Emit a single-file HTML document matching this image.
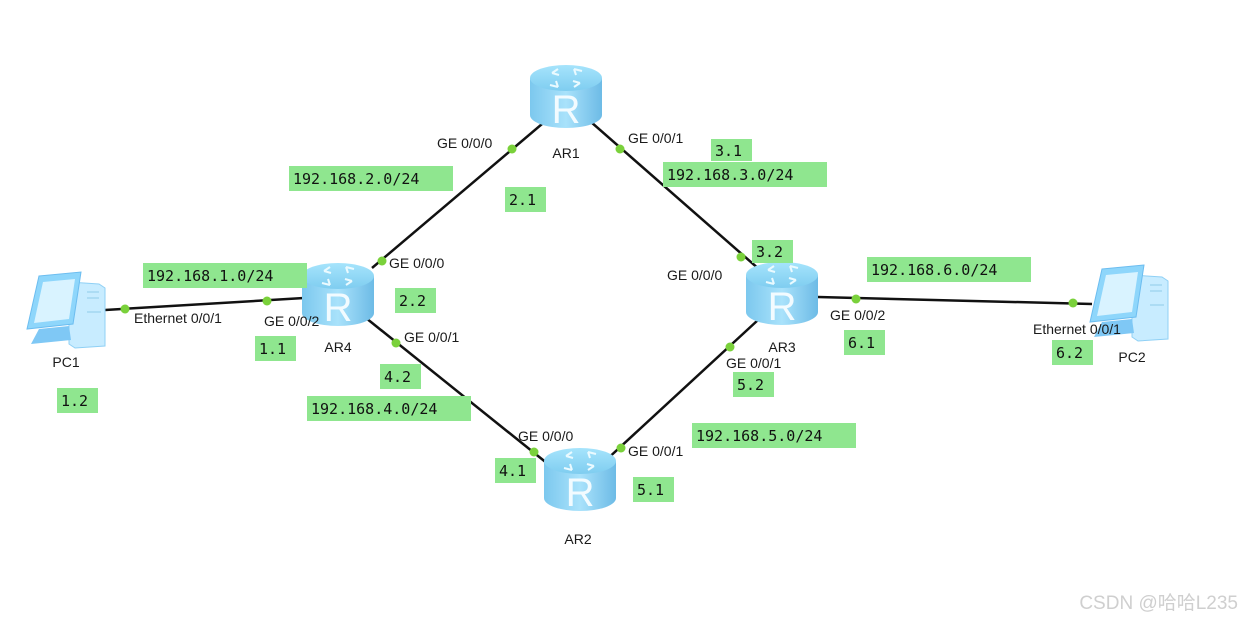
<!DOCTYPE html>
<html><head><meta charset="utf-8"><style>
html,body{margin:0;padding:0;background:#fff;}
svg{display:block;}
.l{font-family:"Liberation Sans",sans-serif;font-size:14px;fill:#1a1a1a;}
.m{font-family:"DejaVu Sans Mono","Liberation Mono",monospace;font-size:15px;fill:#111;}
.g{fill:#8fe68f;}
</style></head><body>
<svg width="1243" height="620" viewBox="0 0 1243 620" xmlns="http://www.w3.org/2000/svg">
<defs>
<linearGradient id="rb" x1="0" x2="1" y1="0" y2="0">
<stop offset="0" stop-color="#7cc8ee"/><stop offset="0.5" stop-color="#a9e2fb"/><stop offset="1" stop-color="#6dbbe6"/></linearGradient>
<linearGradient id="rt" x1="0" x2="0" y1="0" y2="1">
<stop offset="0" stop-color="#a6e4fc"/><stop offset="1" stop-color="#7fcdf0"/></linearGradient>
<g id="router">
<path d="M-36,13 L-36,50 A36,13 0 0 0 36,50 L36,13 Z" fill="url(#rb)"/>
<ellipse cx="0" cy="13" rx="36" ry="13" fill="url(#rt)"/>
<g stroke="#eafaff" stroke-width="2" fill="none">
<path d="M-14,8 l6,-4 M-14,8 l7,2"/><path d="M14,18 l-6,4 M14,18 l-7,-2"/>
<path d="M8,4 l8,2 M8,4 l2,6"/><path d="M-8,22 l-8,-2 M-8,22 l-2,-6"/>
</g>
<text x="0" y="58" text-anchor="middle" font-family="Liberation Sans,sans-serif" font-size="40" fill="#f2fbff">R</text>
</g>
<g id="pc">
<path d="M44,8 L74,10 L80,14 L80,72 L50,74 L44,70 Z" fill="#c8ecff" stroke="#8fd0f5"/>
<path d="M14,2 L56,-2 L48,50 L2,55 Z" fill="#8ed6fb" stroke="#6cbdf0"/>
<path d="M18,8 L50,5 L44,45 L9,49 Z" fill="#d9f3ff"/>
<path d="M14,55 L44,52 L46,66 L6,70 Z" fill="#7fc8f5"/>
<path d="M62,18 h12 M62,24 h12 M62,38 h14" stroke="#8fcbe8"/>
</g>
</defs>
<g stroke="#111" stroke-width="2.5">
<line x1="542" y1="124" x2="372" y2="268"/>
<line x1="591" y1="122" x2="760" y2="270"/>
<line x1="105" y1="310" x2="304" y2="298"/>
<line x1="366" y1="318" x2="548" y2="464"/>
<line x1="604" y1="462" x2="758" y2="320"/>
<line x1="818" y1="297" x2="1092" y2="304"/>
</g>
<use href="#router" x="566" y="65"/>
<use href="#router" x="338" y="263"/>
<use href="#router" x="782" y="262"/>
<use href="#router" x="580" y="448"/>
<use href="#pc" x="25" y="274"/>
<use href="#pc" x="1088" y="267"/>
<g fill="#7ad13b">
<circle cx="512" cy="149" r="4.5"/><circle cx="620" cy="149" r="4.5"/>
<circle cx="382" cy="261" r="4.5"/><circle cx="741" cy="257" r="4.5"/>
<circle cx="125" cy="309" r="4.5"/><circle cx="267" cy="301" r="4.5"/>
<circle cx="396" cy="343" r="4.5"/><circle cx="534" cy="452" r="4.5"/>
<circle cx="621" cy="448" r="4.5"/><circle cx="730" cy="347" r="4.5"/>
<circle cx="856" cy="299" r="4.5"/><circle cx="1073" cy="303" r="4.5"/>
</g>
<g class="l">
<text x="566" y="158" text-anchor="middle">AR1</text>
<text x="338" y="352" text-anchor="middle">AR4</text>
<text x="782" y="352" text-anchor="middle">AR3</text>
<text x="578" y="544" text-anchor="middle">AR2</text>
<text x="66" y="367" text-anchor="middle">PC1</text>
<text x="1132" y="362" text-anchor="middle">PC2</text>
<text x="437" y="148">GE 0/0/0</text>
<text x="628" y="143">GE 0/0/1</text>
<text x="389" y="268">GE 0/0/0</text>
<text x="134" y="323">Ethernet 0/0/1</text>
<text x="264" y="326">GE 0/0/2</text>
<text x="404" y="342">GE 0/0/1</text>
<text x="667" y="280">GE 0/0/0</text>
<text x="830" y="320">GE 0/0/2</text>
<text x="726" y="368">GE 0/0/1</text>
<text x="518" y="441">GE 0/0/0</text>
<text x="628" y="456">GE 0/0/1</text>
<text x="1033" y="334">Ethernet 0/0/1</text>
</g>
<g>
<rect class="g" x="289" y="166" width="164" height="25"/><text class="m" x="293" y="184">192.168.2.0/24</text>
<rect class="g" x="505" y="187" width="41" height="25"/><text class="m" x="509" y="205">2.1</text>
<rect class="g" x="143" y="263" width="164" height="25"/><text class="m" x="147" y="281">192.168.1.0/24</text>
<rect class="g" x="395" y="288" width="41" height="25"/><text class="m" x="399" y="306">2.2</text>
<rect class="g" x="255" y="336" width="41" height="25"/><text class="m" x="259" y="354">1.1</text>
<rect class="g" x="57" y="388" width="41" height="25"/><text class="m" x="61" y="406">1.2</text>
<rect class="g" x="380" y="364" width="41" height="25"/><text class="m" x="384" y="382">4.2</text>
<rect class="g" x="307" y="396" width="164" height="25"/><text class="m" x="311" y="414">192.168.4.0/24</text>
<rect class="g" x="711" y="139" width="41" height="22"/><text class="m" x="715" y="156">3.1</text>
<rect class="g" x="663" y="162" width="164" height="25"/><text class="m" x="667" y="180">192.168.3.0/24</text>
<rect class="g" x="752" y="240" width="41" height="23"/><text class="m" x="756" y="257">3.2</text>
<rect class="g" x="867" y="257" width="164" height="25"/><text class="m" x="871" y="275">192.168.6.0/24</text>
<rect class="g" x="844" y="330" width="41" height="25"/><text class="m" x="848" y="348">6.1</text>
<rect class="g" x="733" y="372" width="41" height="25"/><text class="m" x="737" y="390">5.2</text>
<rect class="g" x="1052" y="340" width="41" height="25"/><text class="m" x="1056" y="358">6.2</text>
<rect class="g" x="692" y="423" width="164" height="25"/><text class="m" x="696" y="441">192.168.5.0/24</text>
<rect class="g" x="495" y="458" width="41" height="25"/><text class="m" x="499" y="476">4.1</text>
<rect class="g" x="633" y="477" width="41" height="25"/><text class="m" x="637" y="495">5.1</text>
</g>
<text x="1238" y="609" text-anchor="end" font-family="Liberation Sans,'Noto Sans CJK SC',sans-serif" font-size="19" fill="#cfcfcf">CSDN @哈哈L235</text>
</svg>
</body></html>
